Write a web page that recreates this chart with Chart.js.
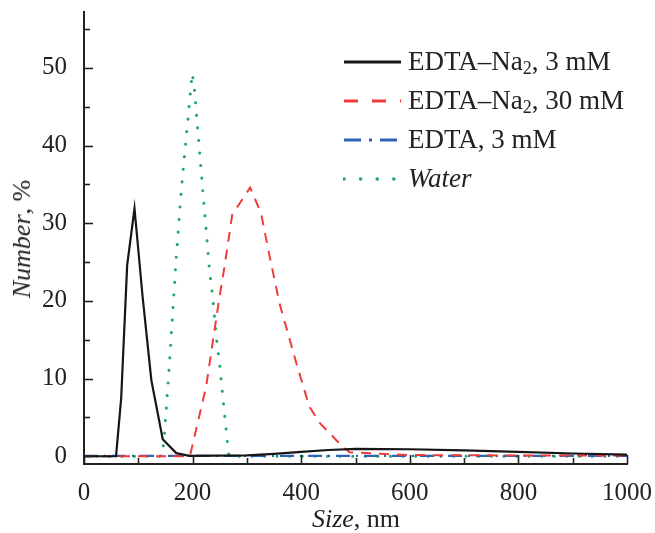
<!DOCTYPE html>
<html>
<head>
<meta charset="utf-8">
<script src="https://cdn.jsdelivr.net/npm/chart.js@4.4.1/dist/chart.umd.min.js"></script>
<style>
  html, body { margin: 0; padding: 0; background: #fff; }
  #wrap { position: relative; width: 655px; height: 533px; font-family: 'Liberation Serif', 'Times New Roman', serif; color: #222; }
  #chart { position: absolute; left: 0; top: 0; }
  .ttl { position: absolute; font-size: 26px; white-space: nowrap; }
  #xTitle { left: 356px; top: 519px; transform: translate(-50%, -50%); }
  #yTitle { left: 22px; top: 239px; transform: translate(-50%, -50%) rotate(-90deg); }
  #legend { position: absolute; left: 343px; top: 42px; font-size: 27px; }
  #legend .row { height: 39px; display: flex; align-items: center; white-space: nowrap; }
  #legend svg { margin-right: 7px; }
  #legend sub { font-size: 18px; vertical-align: -4px; line-height: 0; }
</style>
</head>
<body>
<div id="wrap">
  <canvas id="chart" width="655" height="533"></canvas>
  <div class="ttl" id="xTitle"><i>Size</i>, nm</div>
  <div class="ttl" id="yTitle"><i>Number</i>, %</div>
  <div id="legend"></div>
</div>
<script>
// series (size in nm, number in %)
var labelsHtml = ['EDTA–Na<sub>2</sub>, 3 mM', 'EDTA–Na<sub>2</sub>, 30 mM', 'EDTA, 3 mM', '<i>Water</i>'];
var labelsText = ['EDTA–Na2, 3 mM', 'EDTA–Na2, 30 mM', 'EDTA, 3 mM', 'Water'];

var na3X = [0, 59, 68.5, 79.5, 93, 108, 124, 145, 170, 194, 300, 350, 400, 450, 500, 600, 700, 800, 900, 1000];
var na3Y = [0, 0, 7.5, 24.6, 31.9, 20.5, 9.8, 2.2, 0.4, 0.05, 0.1, 0.3, 0.55, 0.8, 0.95, 0.9, 0.75, 0.55, 0.35, 0.2];

var na30X = [0, 195, 225, 249.5, 258.7, 273, 306, 326, 342, 360, 391, 415, 434, 467, 489, 600, 800, 1000];
var na30Y = [0, 0, 9.0, 20.5, 24.4, 31.1, 34.6, 31.3, 25.7, 19.7, 12.0, 6.4, 4.3, 1.9, 0.5, 0.15, 0.1, 0.1];

var edtaX = [0, 200, 400, 600, 800, 1000];
var edtaY = [0.05, 0.05, 0.05, 0.05, 0.05, 0.05];

var waterX = [0, 143, 147, 157.5, 170, 179, 199.3, 203, 219, 225, 231, 237, 243.5, 249.5, 254.5, 258.7, 265, 267, 1000];
var waterY = [0, 0, 1.7, 12.0, 25.7, 34.1, 49.3, 47.5, 34.0, 29.1, 24.0, 20.5, 15.4, 12.0, 8.5, 5.5, 1.2, 0, 0];

var yTickValues = [0, 5, 10, 15, 20, 25, 30, 35, 40, 45, 50, 55];

var colors = ['#161616', '#ee3b3b', '#2d63b4', '#1fa86c'];
var dashes = [[], [10, 8], [14, 6, 2, 6], [0.1, 12.5]];
var widths = [2.2, 2, 2.2, 3];

function pts(xs, ys) {
  return xs.map(function (x, i) { return { x: x, y: ys[i] }; });
}

var series = [pts(na3X, na3Y), pts(na30X, na30Y), pts(edtaX, edtaY), pts(waterX, waterY)];

var datasets = series.map(function (data, i) {
  return {
    label: labelsText[i],
    data: data,
    borderColor: colors[i],
    backgroundColor: colors[i],
    borderWidth: widths[i],
    borderDash: dashes[i],
    borderCapStyle: i === 3 ? 'round' : 'butt',
    pointRadius: 0,
    tension: 0,
    fill: false
  };
});

// tick marks drawn inward, longer on labelled values
var innerTicks = {
  id: 'innerTicks',
  afterDraw: function (chart) {
    var ctx = chart.ctx, area = chart.chartArea;
    var xs = chart.scales.x, ys = chart.scales.y;
    ctx.save();
    ctx.strokeStyle = '#222';
    ctx.lineWidth = 1.6;
    xs.ticks.forEach(function (t) {
      var px = Math.round(xs.getPixelForValue(t.value)) + 0.5;
      var len = t.value % 200 === 0 ? 9 : 6;
      ctx.beginPath();
      ctx.moveTo(px, area.bottom);
      ctx.lineTo(px, area.bottom - len);
      ctx.stroke();
    });
    ys.ticks.forEach(function (t) {
      var py = Math.round(ys.getPixelForValue(t.value)) + 0.5;
      var len = t.value % 10 === 0 ? 9 : 6;
      ctx.beginPath();
      ctx.moveTo(area.left, py);
      ctx.lineTo(area.left + len, py);
      ctx.stroke();
    });
    ctx.restore();
  }
};

var tickFont = { family: "'Liberation Serif', 'Times New Roman', serif", size: 25 };

var chart = new Chart(document.getElementById('chart'), {
  type: 'line',
  data: { datasets: datasets },
  plugins: [innerTicks],
  options: {
    responsive: false,
    animation: false,
    layout: { padding: { top: 12, right: 28, left: 0, bottom: 0 } },
    plugins: { legend: { display: false }, tooltip: { enabled: false } },
    scales: {
      x: {
        type: 'linear',
        min: 0,
        max: 1000,
        grid: { display: false },
        border: { display: true, color: '#222', width: 2 },
        ticks: {
          stepSize: 100,
          autoSkip: false,
          maxRotation: 0,
          padding: 6,
          color: '#222',
          font: tickFont,
          callback: function (v) { return v % 200 === 0 ? v : ''; }
        },
        afterFit: function (scale) {
          scale.height = 69;
          scale.paddingLeft = 0;
          scale.paddingRight = 0;
        }
      },
      y: {
        type: 'linear',
        min: -1,
        max: 57.2,
        grid: { display: false },
        border: { display: true, color: '#222', width: 2 },
        ticks: {
          padding: 9,
          color: '#222',
          font: tickFont,
          callback: function (v) { return v % 10 === 0 ? v : ''; }
        },
        afterBuildTicks: function (scale) {
          scale.ticks = yTickValues.map(function (v) { return { value: v }; });
        },
        afterFit: function (scale) {
          scale.width = 84;
          scale.paddingTop = 0;
          scale.paddingBottom = 0;
        }
      }
    }
  }
});

// html legend built from the datasets
var legendEl = document.getElementById('legend');
chart.data.datasets.forEach(function (ds, i) {
  var row = document.createElement('div');
  row.className = 'row';
  var dashAttr = '';
  if (i === 1) dashAttr = ' stroke-dasharray="14 14"';
  if (i === 2) dashAttr = ' stroke-dasharray="17 8 3 8"';
  if (i === 3) dashAttr = ' stroke-dasharray="0.1 16.5" stroke-linecap="round"';
  row.innerHTML = '<svg width="58" height="10"><line x1="1" y1="5" x2="58" y2="5" stroke="' + ds.borderColor +
    '" stroke-width="' + (i === 3 ? 3.5 : 3) + '"' + dashAttr + '/></svg><span>' + labelsHtml[i] + '</span>';
  legendEl.appendChild(row);
});
</script>
</body>
</html>
